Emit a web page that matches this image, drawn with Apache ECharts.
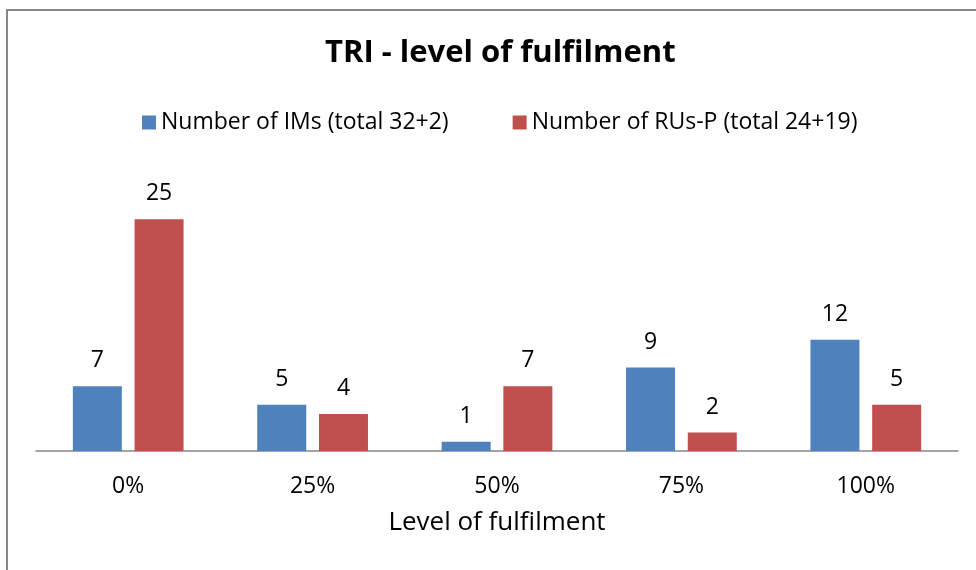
<!DOCTYPE html>
<html>
<head>
<meta charset="utf-8">
<script src="https://cdn.jsdelivr.net/npm/echarts@6/dist/echarts.min.js"></script>
<style>
  html, body { margin: 0; padding: 0; background: #fff; }
  #chart { width: 976px; height: 570px; }
</style>
</head>
<body>
<div id="chart"></div>
<script>
// data
const categories = ['0%', '25%', '50%', '75%', '100%'];
const imsValues = [7, 5, 1, 9, 12];
const rusValues = [25, 4, 7, 2, 5];
const seriesNames = ['Number of IMs (total 32+2)', 'Number of RUs-P (total 24+19)'];

const font = 'Open Sans, Noto Sans, sans-serif';

let myChart = echarts.init(document.getElementById('chart'));
myChart.setOption({
  animation: false,
  title: {
    text: 'TRI - level of fulfilment',
    left: 320,
    top: 33,
    textStyle: { fontFamily: font, fontSize: 31, fontWeight: 'bold', color: '#000' }
  },
  legend: {
    top: 106,
    left: 137,
    itemWidth: 14,
    itemHeight: 14,
    itemGap: 64,
    icon: 'rect',
    textStyle: { fontFamily: font, fontSize: 23, color: '#000' },
    data: seriesNames
  },
  graphic: [{
    type: 'rect',
    shape: { x: 7, y: 10, width: 1000, height: 600 },
    style: { fill: 'none', stroke: '#878787', lineWidth: 2 },
    silent: true
  }],
  grid: { left: 36, right: 18, top: 173, bottom: 119 },
  xAxis: {
    type: 'category',
    data: categories,
    axisTick: { show: false },
    axisLine: { lineStyle: { color: '#868686', width: 1.5 } },
    axisLabel: { margin: 24, fontFamily: font, fontSize: 23, color: '#000' },
    name: 'Level of fulfilment',
    nameLocation: 'middle',
    nameGap: 59,
    nameTextStyle: { fontFamily: font, fontSize: 26, color: '#000' }
  },
  yAxis: {
    type: 'value',
    min: 0,
    max: 30,
    show: false,
    splitLine: { show: false }
  },
  series: [{
    name: seriesNames[0],
    type: 'bar',
    data: imsValues,
    barWidth: 49,
    barGap: '26%',
    itemStyle: { color: '#4F81BD' },
    label: { show: true, position: 'top', distance: 14, fontFamily: font, fontSize: 23, color: '#000' }
  }, {
    name: seriesNames[1],
    type: 'bar',
    data: rusValues,
    barWidth: 49,
    barGap: '26%',
    itemStyle: { color: '#C0504D' },
    label: { show: true, position: 'top', distance: 14, fontFamily: font, fontSize: 23, color: '#000' }
  }]
});
</script>
</body>
</html>
